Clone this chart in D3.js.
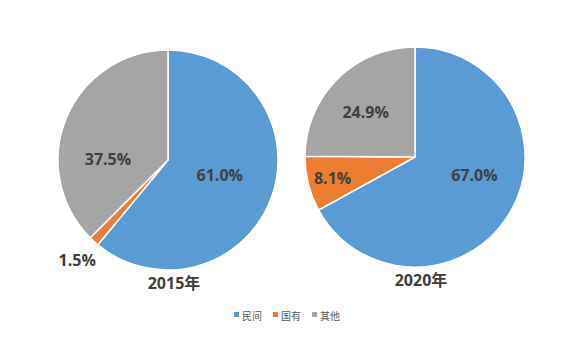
<!DOCTYPE html>
<html><head><meta charset="utf-8">
<script src="https://cdn.jsdelivr.net/npm/d3@7"></script>
<style>
html,body{margin:0;padding:0;background:#fff;}
svg{display:block;}
</style>
</head><body>
<svg id="c" width="575" height="339"></svg>
<script>
const categories = ["民间", "国有", "其他"];
const years = ["2015年", "2020年"];
const values2015 = [61.0, 1.5, 37.5];
const values2020 = [67.0, 8.1, 24.9];
const colors = ["#5B9BD5", "#ED7D31", "#A5A5A5"];

// layout (not data)
const pies = [
  {values: values2015, title: years[0], cx: 168, cy: 160, r: 110,
   labels: [{rad: 55, dx: 0, dy: -4}, {rad: 135, dx: 0, dy: 0}, {rad: 65, dx: 0, dy: 24}]},
  {values: values2020, title: years[1], cx: 415, cy: 157, r: 110,
   labels: [{rad: 62, dx: 6, dy: -14}, {rad: 85, dx: 0, dy: 0}, {rad: 63, dx: -5, dy: 0}]}
];

const svg = d3.select("#c");
const pie = d3.pie().sort(null).value(d => d);
const color = d3.scaleOrdinal().domain(categories).range(colors);

pies.forEach(p => {
  const g = svg.append("g").attr("transform", `translate(${p.cx},${p.cy})`);
  const arcs = pie(p.values);
  const arc = d3.arc().innerRadius(0).outerRadius(p.r);
  g.selectAll("path").data(arcs).join("path")
    .attr("d", arc)
    .attr("fill", (d, i) => color(categories[i]))
    .attr("stroke", "#fff").attr("stroke-width", 1.5).attr("stroke-linejoin", "round");
  g.selectAll("text.lbl").data(arcs).join("text")
    .attr("class", "lbl")
    .attr("x", (d, i) => {
      const a = (d.startAngle + d.endAngle) / 2;
      return Math.sin(a) * p.labels[i].rad + p.labels[i].dx;
    })
    .attr("y", (d, i) => {
      const a = (d.startAngle + d.endAngle) / 2;
      return -Math.cos(a) * p.labels[i].rad + p.labels[i].dy;
    })
    .attr("text-anchor", "middle").attr("dominant-baseline", "central")
    .attr("font-family", "'Open Sans', 'Noto Sans', sans-serif")
    .attr("font-weight", "bold").attr("font-size", 16)
    .attr("fill", "#404040")
    .text(d => d.data.toFixed(1) + "%");
  svg.append("text")
    .attr("x", p.cx + 6).attr("y", p.cy + p.r + 13)
    .attr("text-anchor", "middle").attr("dominant-baseline", "central")
    .attr("font-family", "'Open Sans', 'Noto Sans CJK SC', sans-serif")
    .attr("font-weight", "bold").attr("font-size", 16)
    .attr("fill", "#404040")
    .text(p.title);
});

// legend
const legendX = [234, 273, 312];
const lg = svg.append("g");
categories.forEach((c, i) => {
  lg.append("rect").attr("x", legendX[i]).attr("y", 312).attr("width", 5).attr("height", 5)
    .attr("fill", color(c));
  lg.append("text").attr("x", legendX[i] + 8).attr("y", 315)
    .attr("dominant-baseline", "central")
    .attr("font-family", "'Noto Sans CJK SC', sans-serif").attr("font-size", 10)
    .attr("fill", "#595959").text(c);
});
</script>
</body></html>
